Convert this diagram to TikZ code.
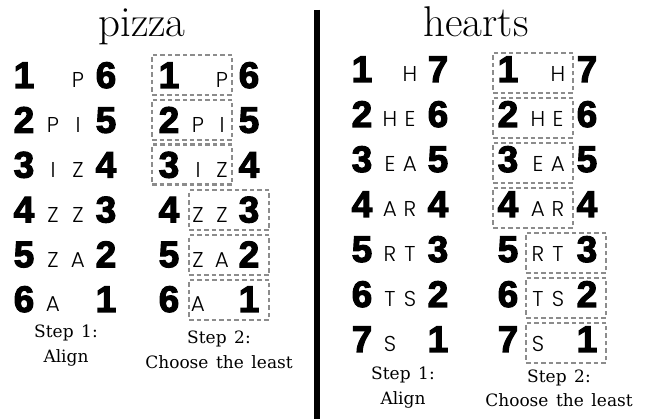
\documentclass[tikz,border=0pt]{standalone}
\usepackage{fontspec}
\newfontfamily\digfam{Liberation Sans}[BoldFeatures={FakeBold=3}]
\newfontfamily\letfam{Poppins}[UprightFont=* Light]
\newfontfamily\stepfam{DejaVu Serif}[WordSpace={1.4}]
\begin{document}
\begin{tikzpicture}[x=1pt,y=-1pt,
  dig/.style={font=\digfam\bfseries\fontsize{37}{37}\selectfont, anchor=base, inner sep=0pt},
  let/.style={font=\letfam\fontsize{21.5}{21.5}\selectfont, anchor=base, inner sep=0pt},
  ttl/.style={font=\fontsize{43}{43}\selectfont, anchor=base, inner sep=0pt},
  stp/.style={font=\stepfam\fontsize{17}{17}\selectfont, anchor=base, inner sep=0pt},
  dbox/.style={draw=black!45, line width=2.2pt, dash pattern=on 4.5pt off 3pt,
    minimum width=80pt, minimum height=40pt, inner sep=0pt}]
\useasboundingbox (0,0) rectangle (649,419);
% titles
\node[ttl] (tp) at (142,37) {pizza};
\node[ttl] (th) at (476,37) {hearts};
% divider
\coordinate (vt) at (316.5,10);
\coordinate (vb) at (316.5,419);
\draw[line width=6pt] (vt) -- (vb);
% pizza
\foreach \i/\a/\b in {1//P,2/P/I,3/I/Z,4/Z/Z,5/Z/A,6/A/}{
  \pgfmathsetmacro\yy{88+(\i-1)*44.8}
  \pgfmathtruncatemacro\r{7-\i}
  \node[dig] (pl\i) at (24,\yy) {\i};
  \node[let] (pa\i) at (53,\yy) {\a};
  \node[let] (pb\i) at (78,\yy) {\b};
  \node[dig] (pr\i) at (106,\yy) {\r};
  \node[dig] (ql\i) at (169,\yy) {\i};
  \node[let] (qa\i) at (198,\yy) {\a};
  \node[let] (qb\i) at (222,\yy) {\b};
  \node[dig] (qr\i) at (249,\yy) {\r};
}
\foreach \i in {1,2,3}{
  \pgfmathsetmacro\yy{88+(\i-1)*44.8-13}
  \node[dbox] (pbox\i) at (192,\yy) {};
}
\foreach \i in {4,5,6}{
  \pgfmathsetmacro\yy{88+(\i-1)*44.8-12}
  \node[dbox] (pbox\i) at (229,\yy) {};
}
\node[stp] (ps1a) at (66,338) {Step 1:};
\node[stp] (ps1b) at (66,363) {Align};
\node[stp] (ps2a) at (219,344) {Step 2:};
\node[stp] (ps2b) at (219,369) {Choose the least};
% hearts
\foreach \i/\a/\b in {1//H,2/H/E,3/E/A,4/A/R,5/R/T,6/T/S,7/S/}{
  \pgfmathsetmacro\yy{82+(\i-1)*45}
  \pgfmathtruncatemacro\r{8-\i}
  \node[dig] (hl\i) at (362,\yy) {\i};
  \node[let] (ha\i) at (390,\yy) {\a};
  \node[let] (hb\i) at (410,\yy) {\b};
  \node[dig] (hr\i) at (438,\yy) {\r};
  \node[dig] (kl\i) at (508,\yy) {\i};
  \node[let] (ka\i) at (538,\yy) {\a};
  \node[let] (kb\i) at (558,\yy) {\b};
  \node[dig] (kr\i) at (587,\yy) {\r};
}
\foreach \i in {1,2,3,4}{
  \pgfmathsetmacro\yy{82+(\i-1)*45-9}
  \node[dbox] (hbox\i) at (533,\yy) {};
}
\foreach \i in {5,6,7}{
  \pgfmathsetmacro\yy{82+(\i-1)*45-9}
  \node[dbox] (hbox\i) at (566,\yy) {};
}
\node[stp] (hs1a) at (403,380) {Step 1:};
\node[stp] (hs1b) at (403,405) {Align};
\node[stp] (hs2a) at (559,383) {Step 2:};
\node[stp] (hs2b) at (559,407) {Choose the least};
\end{tikzpicture}
\end{document}
